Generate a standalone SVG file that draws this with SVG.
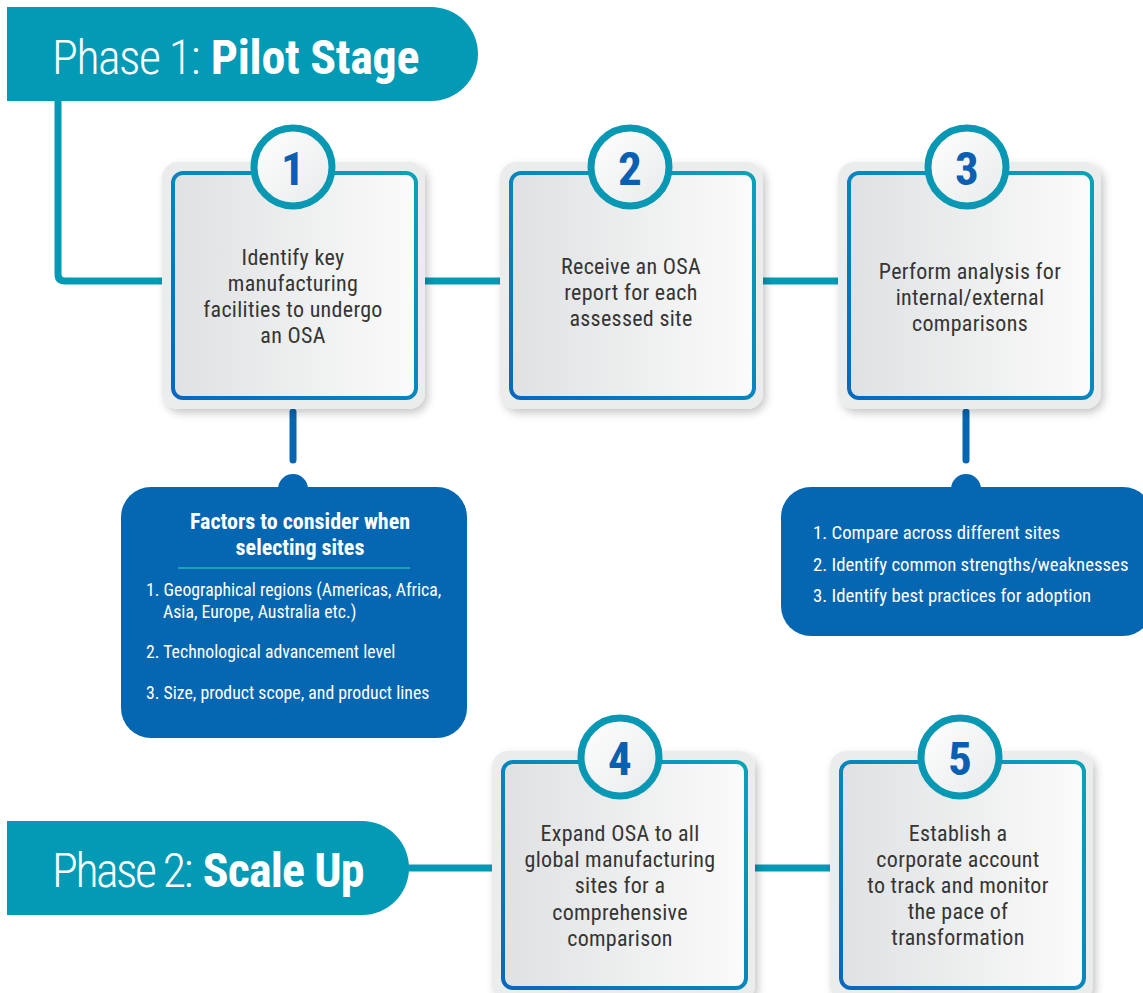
<svg xmlns="http://www.w3.org/2000/svg" width="1143" height="993" viewBox="0 0 1143 993">
<defs>
<style>
.nar{font-family:"Liberation Sans Narrow","Roboto Condensed","DejaVu Sans Condensed","Liberation Sans",sans-serif}
.btxt{font-size:22px;fill:#353535;text-anchor:middle;letter-spacing:0.3px}
.num{font-size:47px;font-weight:bold;fill:#0b5fb0;text-anchor:middle}
.ph{font-size:48px;fill:#fff}
.lt{font-weight:300;letter-spacing:-1.5px}
.bd{font-weight:bold;letter-spacing:-0.3px}
.li{font-size:18.8px;fill:#fff}
.tconn{stroke:#049ab5;stroke-width:7;fill:none}
.bconn{stroke:#0866b1;stroke-width:7;fill:none;stroke-linecap:round}
.outer{fill:#ebecec;filter:url(#sh)}
.inner{fill:url(#gfill);stroke:url(#gstroke);stroke-width:4}
.circ{fill:url(#gcirc);stroke:#0898b3;stroke-width:7}
.callout{fill:#0566b2}
</style>
<linearGradient id="gfill" x1="0" y1="0" x2="1" y2="0">
<stop offset="0" stop-color="#dfe1e2"/><stop offset="1" stop-color="#fbfbfb"/>
</linearGradient>
<linearGradient id="gstroke" x1="0" y1="1" x2="1" y2="0">
<stop offset="0" stop-color="#0a67bd"/><stop offset="0.5" stop-color="#0886bd"/><stop offset="1" stop-color="#0aa3b6"/>
</linearGradient>
<linearGradient id="gcirc" x1="0" y1="0" x2="1" y2="1">
<stop offset="0" stop-color="#ffffff"/><stop offset="1" stop-color="#e8eaeb"/>
</linearGradient>
<filter id="sh" x="-10%" y="-10%" width="125%" height="125%">
<feDropShadow dx="3" dy="4" stdDeviation="4" flood-color="#000" flood-opacity="0.22"/>
</filter>
</defs>
<rect width="1143" height="993" fill="#fff"/>

<g id="connectors">
<path class="tconn" d="M58 101 V274 Q58 281 65 281 H165"/>
<line class="tconn" x1="423" y1="281" x2="502" y2="281"/>
<line class="tconn" x1="761" y1="281" x2="840" y2="281"/>
<line class="tconn" x1="405" y1="868" x2="494" y2="868"/>
<line class="tconn" x1="753" y1="868" x2="832" y2="868"/>
<line class="bconn" x1="293" y1="412" x2="293" y2="460"/>
<line class="bconn" x1="966" y1="412" x2="966" y2="460"/>
</g>

<g id="phase1">
<path d="M7 7 H431 A47 47 0 0 1 431 101 H7 Z" fill="#039ab5"/>
<text class="nar ph" x="52" y="74"><tspan class="lt">Phase 1:</tspan><tspan class="bd" dx="12">Pilot Stage</tspan></text>
</g>

<g id="phase2">
<path d="M7 821 H362 A47 47 0 0 1 362 915 H7 Z" fill="#039ab5"/>
<text class="nar ph" x="52" y="887"><tspan class="lt" style="letter-spacing:-2.5px">Phase 2:</tspan><tspan class="bd" dx="12" style="letter-spacing:-0.9px">Scale Up</tspan></text>
</g>

<g id="step1">
<rect class="outer" x="162" y="162" width="263" height="247" rx="16"/>
<rect class="inner" x="173" y="173" width="243" height="225" rx="10"/>
<circle class="circ" cx="293" cy="167" r="39"/>
<text class="nar num" x="293" y="185">1</text>
<text class="nar btxt"><tspan x="293" y="265">Identify key</tspan><tspan x="293" y="291">manufacturing</tspan><tspan x="293" y="317">facilities to undergo</tspan><tspan x="293" y="343">an OSA</tspan></text>
</g>

<g id="step2">
<rect class="outer" x="500" y="162" width="263" height="247" rx="16"/>
<rect class="inner" x="511" y="173" width="243" height="225" rx="10"/>
<circle class="circ" cx="630" cy="167" r="39"/>
<text class="nar num" x="630" y="185">2</text>
<text class="nar btxt"><tspan x="631" y="274">Receive an OSA</tspan><tspan x="631" y="300">report for each</tspan><tspan x="631" y="326">assessed site</tspan></text>
</g>

<g id="step3">
<rect class="outer" x="838" y="162" width="263" height="247" rx="16"/>
<rect class="inner" x="849" y="173" width="243" height="225" rx="10"/>
<circle class="circ" cx="967" cy="167" r="39"/>
<text class="nar num" x="967" y="185">3</text>
<text class="nar btxt"><tspan x="970" y="279">Perform analysis for</tspan><tspan x="970" y="305">internal/external</tspan><tspan x="970" y="331">comparisons</tspan></text>
</g>

<g id="factors">
<circle class="callout" cx="293" cy="489" r="15"/>
<rect class="callout" x="121" y="487" width="346" height="251" rx="30"/>
<text class="nar" font-size="22" font-weight="bold" fill="#fff" text-anchor="middle"><tspan x="300" y="529">Factors to consider when</tspan><tspan x="300" y="555">selecting sites</tspan></text>
<line x1="178" y1="568" x2="410" y2="568" stroke="#1ba3b5" stroke-width="2"/>
<text class="nar" font-size="17.8" fill="#fff"><tspan x="146" y="596">1. Geographical regions (Americas, Africa,</tspan><tspan x="163" y="618">Asia, Europe, Australia etc.)</tspan><tspan x="146" y="658">2. Technological advancement level</tspan><tspan x="146" y="699">3. Size, product scope, and product lines</tspan></text>
</g>

<g id="analysis">
<circle class="callout" cx="966" cy="489" r="15"/>
<rect class="callout" x="781" y="487" width="372" height="149" rx="30"/>
<text class="nar li"><tspan x="813" y="539">1. Compare across different sites</tspan><tspan x="813" y="571">2. Identify common strengths/weaknesses</tspan><tspan x="813" y="602">3. Identify best practices for adoption</tspan></text>
</g>

<g id="step4">
<rect class="outer" x="492" y="751" width="263" height="250" rx="16"/>
<rect class="inner" x="503" y="762" width="243" height="226" rx="10"/>
<circle class="circ" cx="620" cy="757" r="39"/>
<text class="nar num" x="620" y="775">4</text>
<text class="nar btxt"><tspan x="620" y="841">Expand OSA to all</tspan><tspan x="620" y="867">global manufacturing</tspan><tspan x="620" y="893">sites for a</tspan><tspan x="620" y="920">comprehensive</tspan><tspan x="620" y="946">comparison</tspan></text>
</g>

<g id="step5">
<rect class="outer" x="830" y="751" width="263" height="250" rx="16"/>
<rect class="inner" x="841" y="762" width="243" height="226" rx="10"/>
<circle class="circ" cx="960" cy="757" r="39"/>
<text class="nar num" x="960" y="775">5</text>
<text class="nar btxt"><tspan x="958" y="841">Establish a</tspan><tspan x="958" y="867">corporate account</tspan><tspan x="958" y="893">to track and monitor</tspan><tspan x="958" y="919">the pace of</tspan><tspan x="958" y="945">transformation</tspan></text>
</g>
</svg>
